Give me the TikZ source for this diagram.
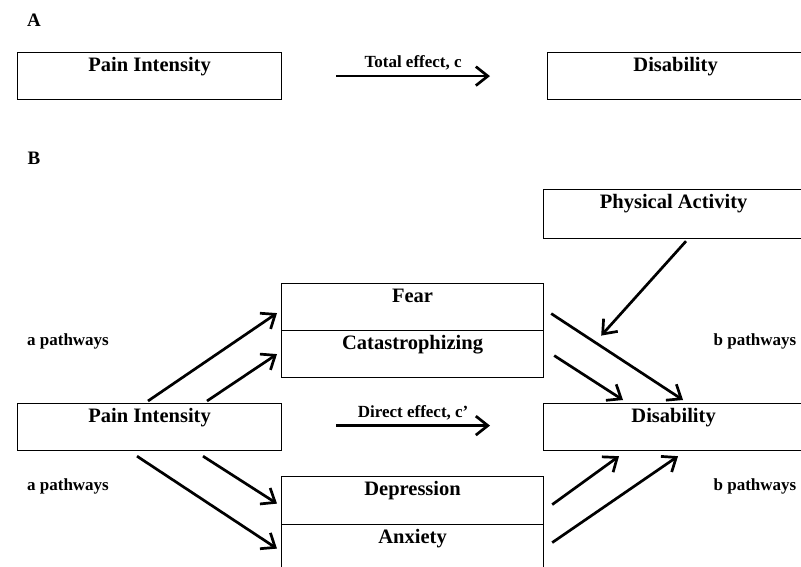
\documentclass[tikz,border=0pt]{standalone}
\usepackage{fontspec}
\setmainfont{Liberation Serif}
\usepackage{tikz}
\usetikzlibrary{%
  arrows.meta,
  positioning
}
\tikzset{
  boite/.style={draw, line width=1.2pt, inner sep=0pt,
    minimum width=#1, text height=19pt, text depth=28pt,
    font=\fontsize{20.5}{21}\selectfont\bfseries},
  boite/.default=262pt,
  fleche/.style={line width=2.7pt,
    -{Straight Barb[length=12pt,width=19pt,line width=2.7pt]}},
  etiquette/.style={font=\fontsize{17}{18}\selectfont\bfseries},
}

\begin{document}
\begin{tikzpicture}[
  x=1pt,
  y=-1pt,
]
  \useasboundingbox (0,0) rectangle (801,567) ;
  \clip (0,0) rectangle (801,567) ;

  % partie A
  \node [font=\fontsize{19}{19}\selectfont\bfseries] (lettreA) at (34,20) {A} ;
  \node [boite=264pt, anchor=north west] (painA) at (17,52) {Pain Intensity} ;
  \node [boite=256pt, anchor=north west] (disA) at (547,52) {Disability} ;
  \draw [fleche] ([xshift=54pt]painA.east) --
        node [etiquette, above=1pt] (totA) {Total effect, c}
        ([xshift=-57pt]disA.west) ;

  % partie B
  \node [font=\fontsize{19}{19}\selectfont\bfseries] (lettreB) at (34,158) {B} ;
  \node [boite=260pt, anchor=north west, text depth=30pt] (phys) at (543,189) {Physical Activity} ;
  \node [boite, anchor=north west] (fear) at (281,283) {Fear} ;
  \node [boite, anchor=north west] (catas) at (281,330) {Catastrophizing} ;
  \node [boite=264pt, anchor=north west] (painB) at (17,403) {Pain Intensity} ;
  \node [boite=260pt, anchor=north west] (disB) at (543,403) {Disability} ;
  \node [boite, anchor=north west, text depth=29pt] (dep) at (281,476) {Depression} ;
  \node [boite, anchor=north west, text depth=29pt] (anx) at (281,524) {Anxiety} ;

  \foreach \y in {341, 486} {
    \node [etiquette] (apath\y) at (68,\y) {a pathways} ;
    \node [etiquette] (bpath\y) at (755,\y) {b pathways} ;
  }

  % effet direct
  \draw [fleche] ([xshift=54pt,yshift=1.5pt]painB.east) --
        node [etiquette, above=1pt] (dirB) {Direct effect, c’}
        ([xshift=-53pt,yshift=1.5pt]disB.west) ;

  % chemins a
  \draw [fleche] ([xshift=131pt,yshift=2pt]painB.north west) -- ([xshift=-4pt,yshift=-6pt]fear.west) ;
  \draw [fleche] ([xshift=190pt,yshift=2pt]painB.north west) -- ([xshift=-4pt]catas.west) ;
  \draw [fleche] ([xshift=186pt,yshift=-5pt]painB.south west) -- ([xshift=-4pt,yshift=-3pt]dep.west) ;
  \draw [fleche] ([xshift=120pt,yshift=-5pt]painB.south west) -- ([xshift=-4pt]anx.west) ;

  % chemins b
  \draw [fleche] ([xshift=7pt,yshift=-6.5pt]fear.east) -- ([xshift=140pt,yshift=3pt]disB.north west) ;
  \draw [fleche] ([xshift=10pt,yshift=-1.5pt]catas.east) -- ([xshift=80pt,yshift=3pt]disB.north west) ;
  \draw [fleche] ([xshift=8pt,yshift=-4pt]dep.east) -- ([xshift=76pt,yshift=-5pt]disB.south west) ;
  \draw [fleche] ([xshift=8pt,yshift=6pt]anx.east) -- ([xshift=135pt,yshift=-5pt]disB.south west) ;

  % moderation
  \draw [fleche] ([xshift=143pt,yshift=-2pt]phys.south west) -- ([xshift=57pt,yshift=-28.5pt]fear.east) ;

\end{tikzpicture}
\end{document}
